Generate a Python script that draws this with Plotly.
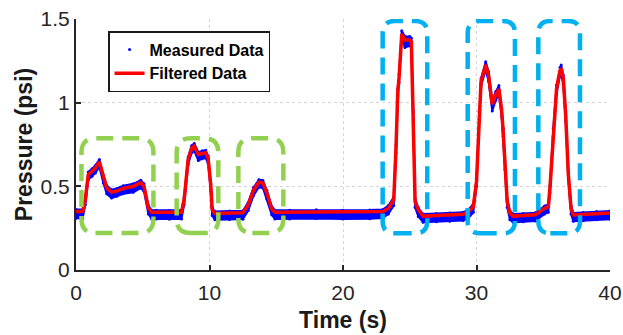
import plotly.graph_objects as go

# ---- data ----
time_s = [0, 0.5, 0.7, 0.92, 1.2, 1.45, 1.75, 2.05, 2.3, 2.67, 3.05, 3.54, 4.29, 4.85, 5.09,
          5.42, 5.67, 6.0, 7.0, 7.9, 8.1, 8.4, 8.66, 8.86, 9.16, 9.46, 9.71, 9.9, 10.1, 10.2,
          10.4, 11.5, 12.5, 12.9, 13.3, 13.7, 14.0, 14.3, 14.66, 14.9, 16, 18, 20, 22, 23.0,
          23.4, 23.8, 23.97, 24.1, 24.2, 24.4, 24.64, 25.0, 25.12, 25.27, 25.4, 25.64, 26.0,
          27, 28, 29.0, 29.4, 29.76, 30.0, 30.19, 30.34, 30.69, 30.9, 31.18, 31.44, 31.68,
          31.89, 32.0, 32.13, 32.3, 32.5, 32.75, 33.5, 34.4, 35.1, 35.38, 35.5, 35.75, 36.0,
          36.25, 36.34, 36.5, 36.68, 36.88, 37.08, 37.25, 38, 39, 40]

filtered_psi = [0.35, 0.35, 0.42, 0.57, 0.59, 0.61, 0.645, 0.55, 0.49, 0.465, 0.472, 0.488, 0.5,
                0.522, 0.5, 0.37, 0.345, 0.345, 0.343, 0.345, 0.42, 0.66, 0.727, 0.741, 0.69,
                0.697, 0.70, 0.667, 0.50, 0.36, 0.338, 0.34, 0.342, 0.389, 0.478, 0.525, 0.52,
                0.46, 0.365, 0.345, 0.345, 0.348, 0.345, 0.347, 0.35, 0.369, 0.418, 0.727,
                1.065, 1.15, 1.41, 1.375, 1.375, 1.365, 0.926, 0.408, 0.359, 0.322, 0.325,
                0.329, 0.333, 0.349, 0.378, 0.528, 0.926, 1.126, 1.225, 1.166, 0.99, 1.046,
                1.082, 0.946, 0.827, 0.628, 0.408, 0.339, 0.322, 0.325, 0.33, 0.369, 0.378,
                0.488, 0.827, 1.086, 1.19, 1.205, 1.146, 0.926, 0.568, 0.369, 0.329, 0.332,
                0.337, 0.34]

# measured data: upper and lower edge of the noisy blue point cloud
measured_upper = [0.362, 0.362, 0.435, 0.585, 0.605, 0.625, 0.66, 0.565, 0.505, 0.48, 0.487,
                  0.503, 0.515, 0.537, 0.515, 0.385, 0.357, 0.357, 0.355, 0.357, 0.435, 0.675,
                  0.742, 0.756, 0.705, 0.712, 0.715, 0.682, 0.515, 0.375, 0.35, 0.352, 0.354,
                  0.404, 0.493, 0.54, 0.535, 0.475, 0.38, 0.357, 0.357, 0.36, 0.357, 0.359,
                  0.362, 0.385, 0.435, 0.745, 1.085, 1.17, 1.43, 1.395, 1.395, 1.385, 0.945,
                  0.425, 0.372, 0.334, 0.337, 0.341, 0.345, 0.362, 0.393, 0.545, 0.945, 1.145,
                  1.245, 1.186, 1.01, 1.066, 1.102, 0.966, 0.847, 0.648, 0.425, 0.352, 0.334,
                  0.337, 0.342, 0.382, 0.393, 0.505, 0.845, 1.106, 1.21, 1.225, 1.166, 0.946,
                  0.588, 0.385, 0.341, 0.344, 0.349, 0.352]

measured_lower = [0.31, 0.31, 0.39, 0.54, 0.56, 0.58, 0.615, 0.52, 0.455, 0.43, 0.44, 0.455,
                  0.465, 0.49, 0.47, 0.335, 0.305, 0.305, 0.303, 0.305, 0.39, 0.63, 0.70, 0.71,
                  0.655, 0.665, 0.67, 0.635, 0.47, 0.325, 0.30, 0.302, 0.304, 0.355, 0.445,
                  0.495, 0.49, 0.425, 0.33, 0.305, 0.305, 0.308, 0.305, 0.307, 0.31, 0.335,
                  0.385, 0.70, 1.04, 1.12, 1.38, 1.33, 1.34, 1.33, 0.90, 0.375, 0.32, 0.285,
                  0.288, 0.292, 0.296, 0.31, 0.345, 0.50, 0.90, 1.10, 1.195, 1.13, 0.95, 1.015,
                  1.05, 0.915, 0.80, 0.60, 0.375, 0.30, 0.285, 0.288, 0.293, 0.335, 0.345, 0.46,
                  0.80, 1.055, 1.16, 1.17, 1.11, 0.895, 0.54, 0.335, 0.292, 0.295, 0.30, 0.303]

x_ticks = [0, 10, 20, 30, 40]
y_ticks = [0, 0.5, 1, 1.5]
y_tick_labels = ["0", "0.5", "1", "1.5"]

# highlighted regions (x0, x1, y0, y1) in data units
green_regions = [(0.41, 5.80, 0.221, 0.787), (7.54, 10.66, 0.221, 0.787), (12.16, 15.53, 0.221, 0.787)]
blue_regions = [(22.97, 26.31, 0.219, 1.488), (29.34, 32.88, 0.219, 1.488), (34.63, 37.75, 0.219, 1.488)]

FONT = "Liberation Sans, Arial, Helvetica, sans-serif"
AX = "#262626"

fig = go.Figure()

# measured data cloud (filled band between envelope edges)
fig.add_trace(go.Scatter(
    x=time_s + time_s[::-1], y=measured_upper + measured_lower[::-1],
    mode="lines", fill="toself", fillcolor="#0000FF",
    line=dict(color="#0000FF", width=2), showlegend=False, hoverinfo="skip"))
fig.add_trace(go.Scatter(
    x=time_s + time_s, y=measured_upper + measured_lower,
    mode="markers", marker=dict(color="#0000FF", size=3), name="Measured Data"))
fig.add_trace(go.Scatter(
    x=time_s, y=filtered_psi, mode="lines",
    line=dict(color="#FF0000", width=3.5), name="Filtered Data"))

# rounded dashed rectangles
px_x = 40 / 534.0
px_y = 1.5 / 251.0


def rounded_path(x0, x1, y0, y1, r):
    rx, ry = r * px_x, r * px_y
    return (f"M {x0+rx},{y0} L {x1-rx},{y0} Q {x1},{y0} {x1},{y0+ry} "
            f"L {x1},{y1-ry} Q {x1},{y1} {x1-rx},{y1} L {x0+rx},{y1} "
            f"Q {x0},{y1} {x0},{y1-ry} L {x0},{y0+ry} Q {x0},{y0} {x0+rx},{y0} Z")


for (x0, x1, y0, y1) in green_regions:
    fig.add_shape(type="path", xref="x", yref="y", path=rounded_path(x0, x1, y0, y1, 14),
                  line=dict(color="#92D050", width=4.5, dash="17px,9px"), layer="above")
for (x0, x1, y0, y1) in blue_regions:
    fig.add_shape(type="path", xref="x", yref="y", path=rounded_path(x0, x1, y0, y1, 12),
                  line=dict(color="#00B0F0", width=4.5, dash="17px,9px"), layer="above")

fig.update_layout(
    width=623, height=335,
    margin=dict(l=76, r=13, t=19, b=65),
    paper_bgcolor="white", plot_bgcolor="white",
    font=dict(family=FONT, color=AX),
    legend=dict(x=0.06, y=0.952, xanchor="left", yanchor="top",
                bgcolor="white", bordercolor="#1a1a1a", borderwidth=1.5,
                font=dict(family=FONT, size=16, color="#000000", weight="bold"),
                tracegroupgap=0, itemwidth=30),
)

fig.update_xaxes(
    range=[0, 40], tickvals=x_ticks, ticks="inside", ticklen=5, tickwidth=1.5, tickcolor=AX,
    showline=True, linecolor=AX, linewidth=2, zeroline=False, automargin=False,
    showgrid=True, gridcolor="#d4d4d4", griddash="dot", gridwidth=1,
    tickfont=dict(family=FONT, size=21, color=AX), ticklabelstandoff=3,
    title=dict(text="Time (s)", font=dict(family=FONT, size=23, color="#1a1a1a", weight="bold"),
               standoff=9),
)
fig.update_yaxes(
    range=[0, 1.5], tickvals=y_ticks, ticktext=y_tick_labels, ticks="inside", ticklen=5,
    tickwidth=1.5, tickcolor=AX,
    showline=True, linecolor=AX, linewidth=2, zeroline=False, automargin=False,
    showgrid=True, gridcolor="#d4d4d4", griddash="dot", gridwidth=1,
    tickfont=dict(family=FONT, size=21, color=AX),
    title=dict(text="Pressure (psi)", font=dict(family=FONT, size=23, color="#1a1a1a", weight="bold"),
               standoff=2),
)

fig.write_html("out.html", config={"displayModeBar": False},
               post_script="document.body.style.margin='0';document.body.style.overflow='hidden';")
